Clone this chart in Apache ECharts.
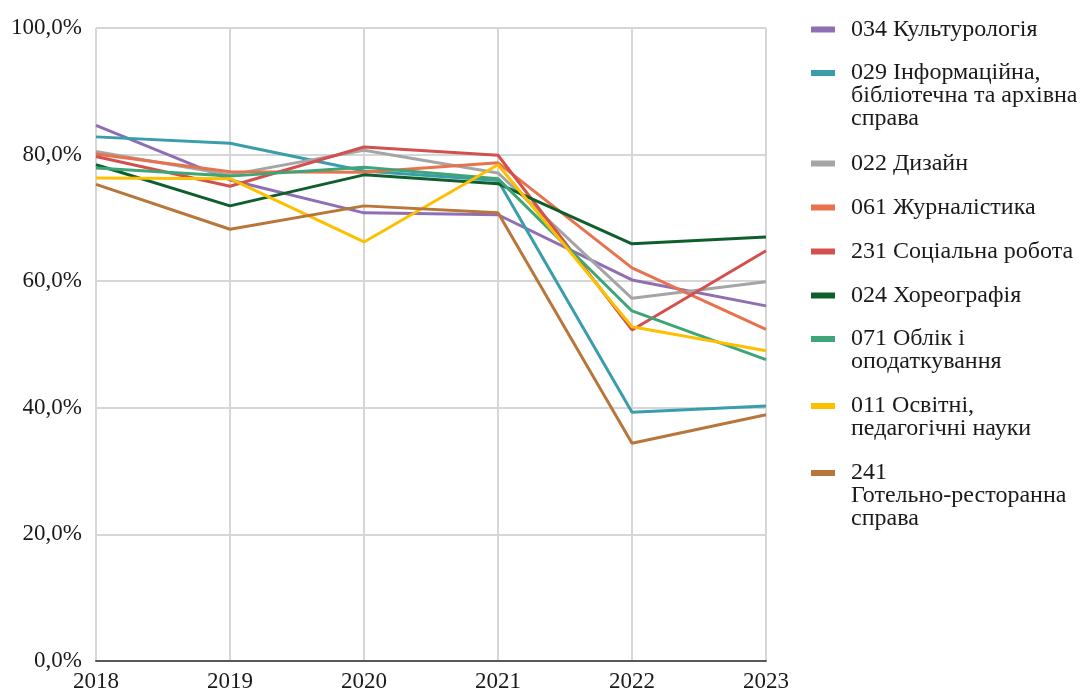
<!DOCTYPE html>
<html>
<head>
<meta charset="utf-8">
<script src="https://cdn.jsdelivr.net/npm/echarts@6/dist/echarts.min.js"></script>
<style>
html,body{margin:0;padding:0;background:#fff;}
#chart{width:1080px;height:693px;}
</style>
</head>
<body>
<div id="chart"></div>
<script>
const years = ['2018', '2019', '2020', '2021', '2022', '2023'];
const yTickLabels = ['0,0%', '20,0%', '40,0%', '60,0%', '80,0%', '100,0%'];

const seriesNames = [
  '034 Культурологія',
  '029 Інформаційна,\nбібліотечна та архівна\nсправа',
  '022 Дизайн',
  '061 Журналістика',
  '231 Соціальна робота',
  '024 Хореографія',
  '071 Облік і\nоподаткування',
  '011 Освітні,\nпедагогічні науки',
  '241\nГотельно-ресторанна\nсправа'
];
const seriesColors = ['#8f6fb3', '#3a9dab', '#a5a5a5', '#e8714e', '#d4504f', '#0f5f2c', '#3ea576', '#fdc000', '#b8763a'];

const kulturologiya   = [84.6, 76.0, 70.8, 70.5, 60.2, 56.1];
const informatsiyna   = [82.8, 81.8, 77.4, 75.9, 39.3, 40.3];
const dyzain          = [80.5, 76.8, 80.7, 77.1, 57.3, 59.9];
const zhurnalistyka   = [80.1, 77.3, 77.2, 78.7, 62.1, 52.4];
const sotsialna       = [79.7, 75.0, 81.2, 79.9, 52.3, 64.8];
const khoreohrafiya   = [78.4, 71.9, 76.8, 75.4, 65.9, 67.0];
const oblik           = [77.9, 76.6, 78.0, 76.2, 55.3, 47.6];
const osvitni         = [76.3, 76.2, 66.2, 78.4, 52.8, 49.0];
const hotelno         = [75.3, 68.2, 71.9, 70.8, 34.4, 38.9];

const seriesData = [kulturologiya, informatsiyna, dyzain, zhurnalistyka, sotsialna, khoreohrafiya, oblik, osvitni, hotelno];

const font = "'Liberation Serif', 'Times New Roman', serif";
const LH = 23;
const legendFontSize = 24;
const legendGap = 21;
const legendFirstCenter = 29;
const chart = echarts.init(document.getElementById('chart'), null, {renderer: 'canvas'});

function firstLineStyle(n) {
  return {fontFamily: font, fontSize: legendFontSize, color: '#1a1a1a', height: LH, lineHeight: n * LH, verticalAlign: 'bottom'};
}

const legends = [];
let centerY = legendFirstCenter;
seriesNames.forEach(function (name) {
  const n = name.split('\n').length;
  legends.push({
    orient: 'vertical',
    left: 811,
    top: centerY - LH / 2 - (n - 1) * LH,
    padding: 0,
    itemWidth: 24,
    itemHeight: 6,
    icon: 'rect',
    selectedMode: false,
    data: [name],
    formatter: function (nm) {
      const lines = nm.split('\n');
      if (lines.length === 1) return nm;
      return '{f' + lines.length + '|' + lines[0] + '}\n' + lines.slice(1).join('\n');
    },
    textStyle: {
      fontFamily: font,
      fontSize: legendFontSize,
      color: '#1a1a1a',
      lineHeight: LH,
      padding: [0, 0, 0, 11],
      rich: {f2: firstLineStyle(2), f3: firstLineStyle(3)}
    }
  });
  centerY += n * LH + legendGap;
});

chart.setOption({
  animation: false,
  backgroundColor: '#ffffff',
  color: seriesColors,
  grid: {left: 96, right: 314, top: 28, bottom: 32, containLabel: false},
  legend: legends,
  xAxis: {
    type: 'category',
    data: years,
    boundaryGap: false,
    axisLine: {show: true, lineStyle: {color: '#595959', width: 2}},
    axisTick: {show: false},
    axisLabel: {fontFamily: font, fontSize: 23, color: '#1a1a1a', margin: 9},
    splitLine: {show: true, lineStyle: {color: '#d6d6d6', width: 2}}
  },
  yAxis: {
    type: 'value',
    min: 0,
    max: 100,
    interval: 20,
    axisLine: {show: false},
    axisTick: {show: false},
    axisLabel: {
      fontFamily: font, fontSize: 23, color: '#1a1a1a', margin: 14,
      formatter: function (v) { return yTickLabels[Math.round(v / 20)]; }
    },
    splitLine: {show: true, lineStyle: {color: '#d6d6d6', width: 2}}
  },
  series: seriesNames.map(function (name, i) {
    return {
      name: name,
      type: 'line',
      data: seriesData[i],
      symbol: 'none',
      lineStyle: {width: 3, color: seriesColors[i]},
      itemStyle: {color: seriesColors[i]}
    };
  })
});
</script>
</body>
</html>
